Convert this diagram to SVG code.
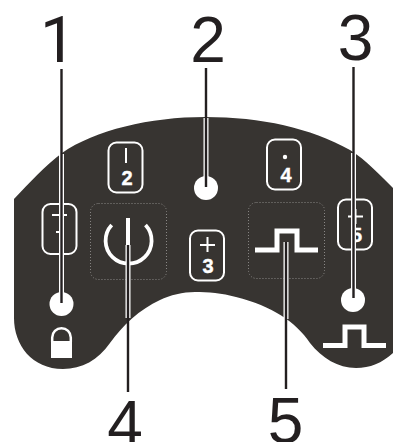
<svg xmlns="http://www.w3.org/2000/svg" width="393" height="442" viewBox="0 0 393 442">
<style>
.num{font-family:"Liberation Sans",Arial,sans-serif;font-size:64px;fill:#231f20;text-anchor:middle}
.btn{fill:none;stroke:#fff;stroke-width:2}
.blab{font-family:"Liberation Sans",Arial,sans-serif;font-size:20px;font-weight:bold;fill:#fff;stroke:#fff;stroke-width:.4;text-anchor:middle}
.sym{fill:none;stroke:#fff;stroke-width:2}
.dot{fill:none;stroke:#8a8886;stroke-width:1;stroke-dasharray:1 2}
.icon{fill:none;stroke:#fff;stroke-width:5}
.led{fill:#fff}
.halo{stroke:#fff;stroke-width:5;fill:none}
.core{stroke:#231f20;stroke-width:2.400;fill:none}
</style>
<rect width="393" height="442" fill="#fff"/>
<g id="body">
<path d="M14 199C30 182 45 166 62 153C95 130 150 117 205 117C262 117 310 128 350 150C366 160 380 175 393 188V353C382 363 370 368 356 368C338 368 322 358 310 343C296 322 272 306 236 297C222 293 208 292 195 292C183 292 170 295 160 300C140 309 122 326 110 343C98 360 82 369 63 369C32 369 14 345 14 318Z" fill="#373431"/>
</g>
<g id="button-1"><rect class="btn" x="42.500" y="204" width="34" height="50" rx="8"/><path class="sym" d="M52 215H67M56 232H60"/></g>
<g id="button-2"><rect class="btn" x="108.500" y="142.500" width="34" height="50" rx="8"/><path class="sym" d="M126 148V163"/><text class="blab" x="127" y="185">2</text></g>
<g id="button-3"><rect class="btn" x="190" y="230.500" width="34" height="50" rx="8"/><path class="sym" d="M200 245H215M207.500 237V252"/><text class="blab" x="208" y="273">3</text></g>
<g id="button-4"><rect class="btn" x="267" y="139.500" width="34" height="50" rx="8"/><circle cx="285" cy="157" r="2.200" fill="#fff"/><text class="blab" x="286" y="182">4</text></g>
<g id="button-5"><rect class="btn" x="338" y="199.500" width="34" height="50" rx="8"/><path class="sym" d="M348 216.500H363M355.500 209V224"/><text class="blab" x="356.500" y="242">5</text></g>
<g id="power"><rect class="dot" x="90.500" y="203.500" width="76" height="76" rx="8"/><path d="M111.700 225A23 23 0 1 0 145.500 225" fill="none" stroke="#fff" stroke-width="3.800"/><path d="M128 218V245" stroke="#fff" stroke-width="4"/></g>
<g id="pulse"><rect class="dot" x="248.500" y="202.500" width="76" height="76" rx="8"/><path class="icon" d="M255 250H277V231H297V250H318"/></g>
<g id="pulse-small"><path class="icon" d="M323 345.500H345V327H364V345.500H386"/></g>
<g id="lock"><path d="M52.200 342V337.500A9.300 9.300 0 0 1 70.800 337.500V342" fill="none" stroke="#fff" stroke-width="2.500"/><rect x="51" y="341" width="21" height="17" fill="#fff"/></g>
<g id="led-1"><circle class="led" cx="61.500" cy="304" r="12"/></g>
<g id="led-2"><circle class="led" cx="206" cy="188" r="12"/></g>
<g id="led-3"><circle class="led" cx="353" cy="300" r="12"/></g>
<g id="connectors">
<path class="halo" d="M61.500 154V303M206 118V187M353.500 153V298M128 245V318M286 242V319"/>
<path class="core" d="M61.500 69V303M206 68V187M353.500 67V298M128 245V392M286 242V389"/>
</g>
<g id="labels">
<text class="num" x="58" y="62" style="font-family:Roboto,sans-serif">1</text>
<text class="num" x="208" y="62">2</text>
<text class="num" x="355.500" y="60">3</text>
<text class="num" x="125" y="446">4</text>
<text class="num" x="285.500" y="443">5</text>
</g>
</svg>
